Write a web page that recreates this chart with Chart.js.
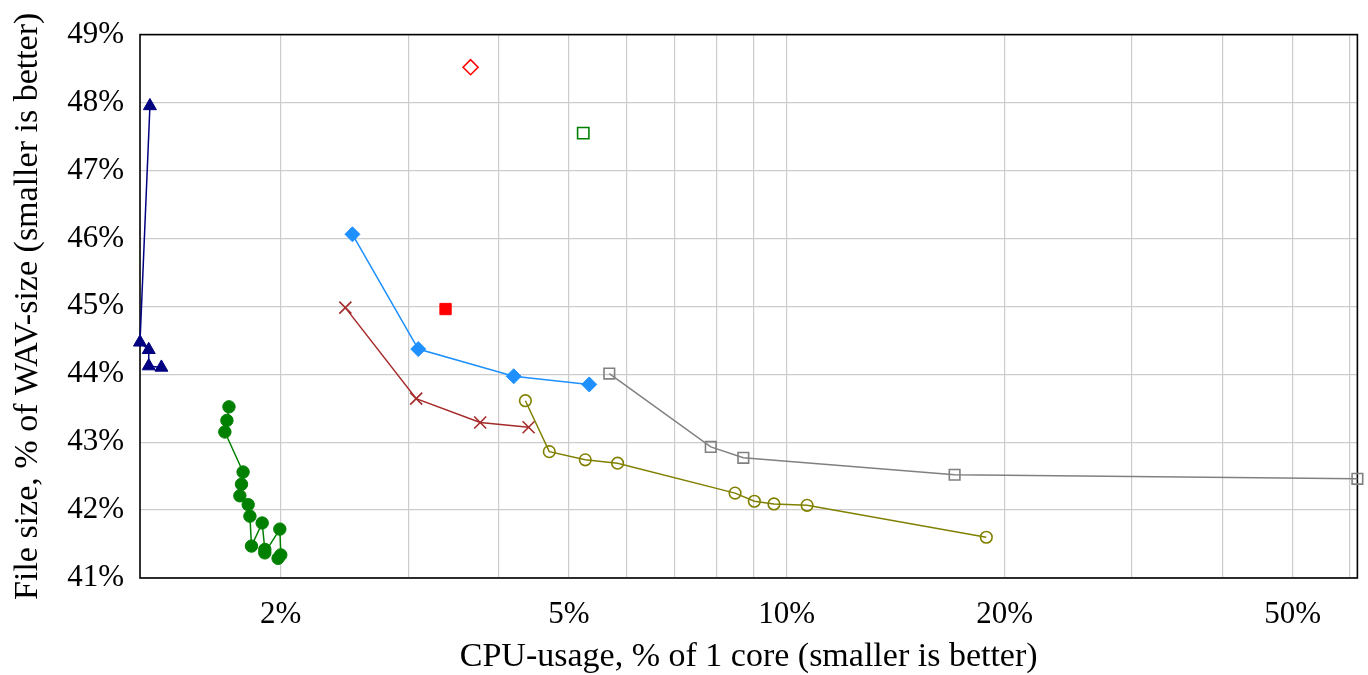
<!DOCTYPE html>
<html lang="en">
<head>
    <meta charset="UTF-8" />
    <title>CPU usage vs file size</title>
    <script src="https://cdn.jsdelivr.net/npm/chart.js"></script>
    <style>
        html, body { margin: 0; padding: 0; background: #fff; }
        #wrap { width: 1368px; height: 675px; }
    </style>
</head>
<body>
<div id="wrap"><canvas id="cpuChart" width="1368" height="675"></canvas></div>

<script>
    // values: x = CPU-usage (%), y = file size (% of WAV)
    const triangleCpu  = [1.319, 1.278, 1.314, 1.314, 1.368];
    const triangleSize = [47.95, 44.47, 44.36, 44.12, 44.10];

    const dotCpu  = [1.696, 1.685, 1.674, 1.774, 1.765, 1.756, 1.803, 1.813, 1.822, 1.885, 1.901, 1.901, 1.994, 2.000, 1.983];
    const dotSize = [43.52, 43.32, 43.15, 42.56, 42.38, 42.21, 42.08, 41.91, 41.47, 41.81, 41.42, 41.37, 41.72, 41.34, 41.29];

    const diamondCpu  = [2.512, 3.097, 4.196, 5.336];
    const diamondSize = [46.06, 44.37, 43.97, 43.85];

    const crossCpu  = [2.456, 3.077, 3.772, 4.400];
    const crossSize = [44.98, 43.64, 43.29, 43.22];

    const circleCpu  = [4.355, 4.699, 5.269, 5.839, 8.485, 9.022, 9.602, 10.67, 18.87];
    const circleSize = [43.61, 42.86, 42.74, 42.69, 42.25, 42.13, 42.09, 42.07, 41.60];

    const squareCpu  = [5.687, 7.854, 8.711, 17.06, 61.44];
    const squareSize = [44.01, 42.93, 42.77, 42.52, 42.46];

    const redSquareCpu = [3.378],   redSquareSize = [44.96];
    const openDiamondCpu = [3.658], openDiamondSize = [48.52];
    const greenSquareCpu = [5.235], greenSquareSize = [47.55];

    const xGridValues = [2, 3, 4, 5, 6, 7, 8, 9, 10, 20, 30, 40, 50, 60];
    const xLabelValues = [2, 5, 10, 20, 50];
    const yMin = 41, yMax = 49;

    function pts(xs, ys) {
        return xs.map((x, i) => ({ x: x, y: ys[i] }));
    }

    const allCpu = [].concat(triangleCpu, dotCpu, diamondCpu, crossCpu, circleCpu,
        squareCpu, redSquareCpu, openDiamondCpu, greenSquareCpu);

    const serif = "'Liberation Serif', 'DejaVu Serif', serif";
    const none = "rgba(0,0,0,0)";

    function series(xs, ys, color, style, radius, filled, line) {
        return {
            data: pts(xs, ys),
            showLine: line,
            borderColor: color,
            backgroundColor: color,
            borderWidth: 1.5,
            pointStyle: style,
            pointRadius: radius,
            pointHoverRadius: radius,
            pointBackgroundColor: filled ? color : none,
            pointBorderColor: color,
            pointBorderWidth: filled ? 1 : 1.6,
            clip: false
        };
    }

    const frame = {
        id: "frame",
        beforeDatasetsDraw(chart) {
            const a = chart.chartArea;
            const ctx = chart.ctx;
            ctx.save();
            ctx.strokeStyle = "#000";
            ctx.lineWidth = 1.6;
            ctx.strokeRect(a.left, a.top, a.right - a.left, a.bottom - a.top);
            ctx.restore();
        }
    };

    const ctx = document.getElementById("cpuChart").getContext("2d");
    new Chart(ctx, {
        type: "scatter",
        data: {
            datasets: [
                series(squareCpu, squareSize, "#808080", "rect", 7.5, false, true),
                series(circleCpu, circleSize, "#808000", "circle", 5.8, false, true),
                series(crossCpu, crossSize, "#a52a2a", "crossRot", 8.5, false, true),
                series(diamondCpu, diamondSize, "#1e90ff", "rectRot", 7.5, true, true),
                series(dotCpu, dotSize, "#008000", "circle", 6.2, true, true),
                series(triangleCpu, triangleSize, "#000080", "triangle", 7.5, true, true),
                series(redSquareCpu, redSquareSize, "#ff0000", "rect", 8, true, false),
                series(openDiamondCpu, openDiamondSize, "#ff0000", "rectRot", 7.5, false, false),
                series(greenSquareCpu, greenSquareSize, "#008000", "rect", 8, false, false)
            ]
        },
        options: {
            responsive: false,
            animation: false,
            layout: { padding: { top: 31, right: 7, left: 0, bottom: 0 } },
            plugins: {
                legend: { display: false },
                tooltip: { enabled: false }
            },
            scales: {
                x: {
                    type: "logarithmic",
                    min: Math.min(...allCpu),
                    max: Math.max(...allCpu),
                    border: { display: false },
                    grid: { color: "#cccccc", lineWidth: 1.2, drawTicks: false },
                    afterBuildTicks: (s) => { s.ticks = xGridValues.map((v) => ({ value: v })); },
                    afterFit: (s) => { s.height = 97; },
                    ticks: {
                        autoSkip: false,
                        maxRotation: 0,
                        padding: 18,
                        color: "#000",
                        font: { family: serif, size: 31 },
                        callback: (v) => (xLabelValues.includes(v) ? v + "%" : "")
                    },
                    title: {
                        display: true,
                        text: "CPU-usage, % of 1 core (smaller is better)",
                        color: "#000",
                        font: { family: serif, size: 34, lineHeight: 1.0 },
                        padding: { top: 0, bottom: 1 }
                    }
                },
                y: {
                    min: yMin,
                    max: yMax,
                    border: { display: false },
                    grid: { color: "#cccccc", lineWidth: 1.2, drawTicks: false },
                    afterFit: (s) => { s.width = 140; },
                    ticks: {
                        stepSize: 1,
                        padding: 16,
                        color: "#000",
                        font: { family: serif, size: 31 },
                        callback: (v) => v + "%"
                    },
                    title: {
                        display: true,
                        text: "File size, % of WAV-size (smaller is better)",
                        color: "#000",
                        font: { family: serif, size: 34, lineHeight: 1.0 },
                        padding: { top: 11, bottom: 0 }
                    }
                }
            }
        },
        plugins: [frame]
    });
</script>
</body>
</html>
